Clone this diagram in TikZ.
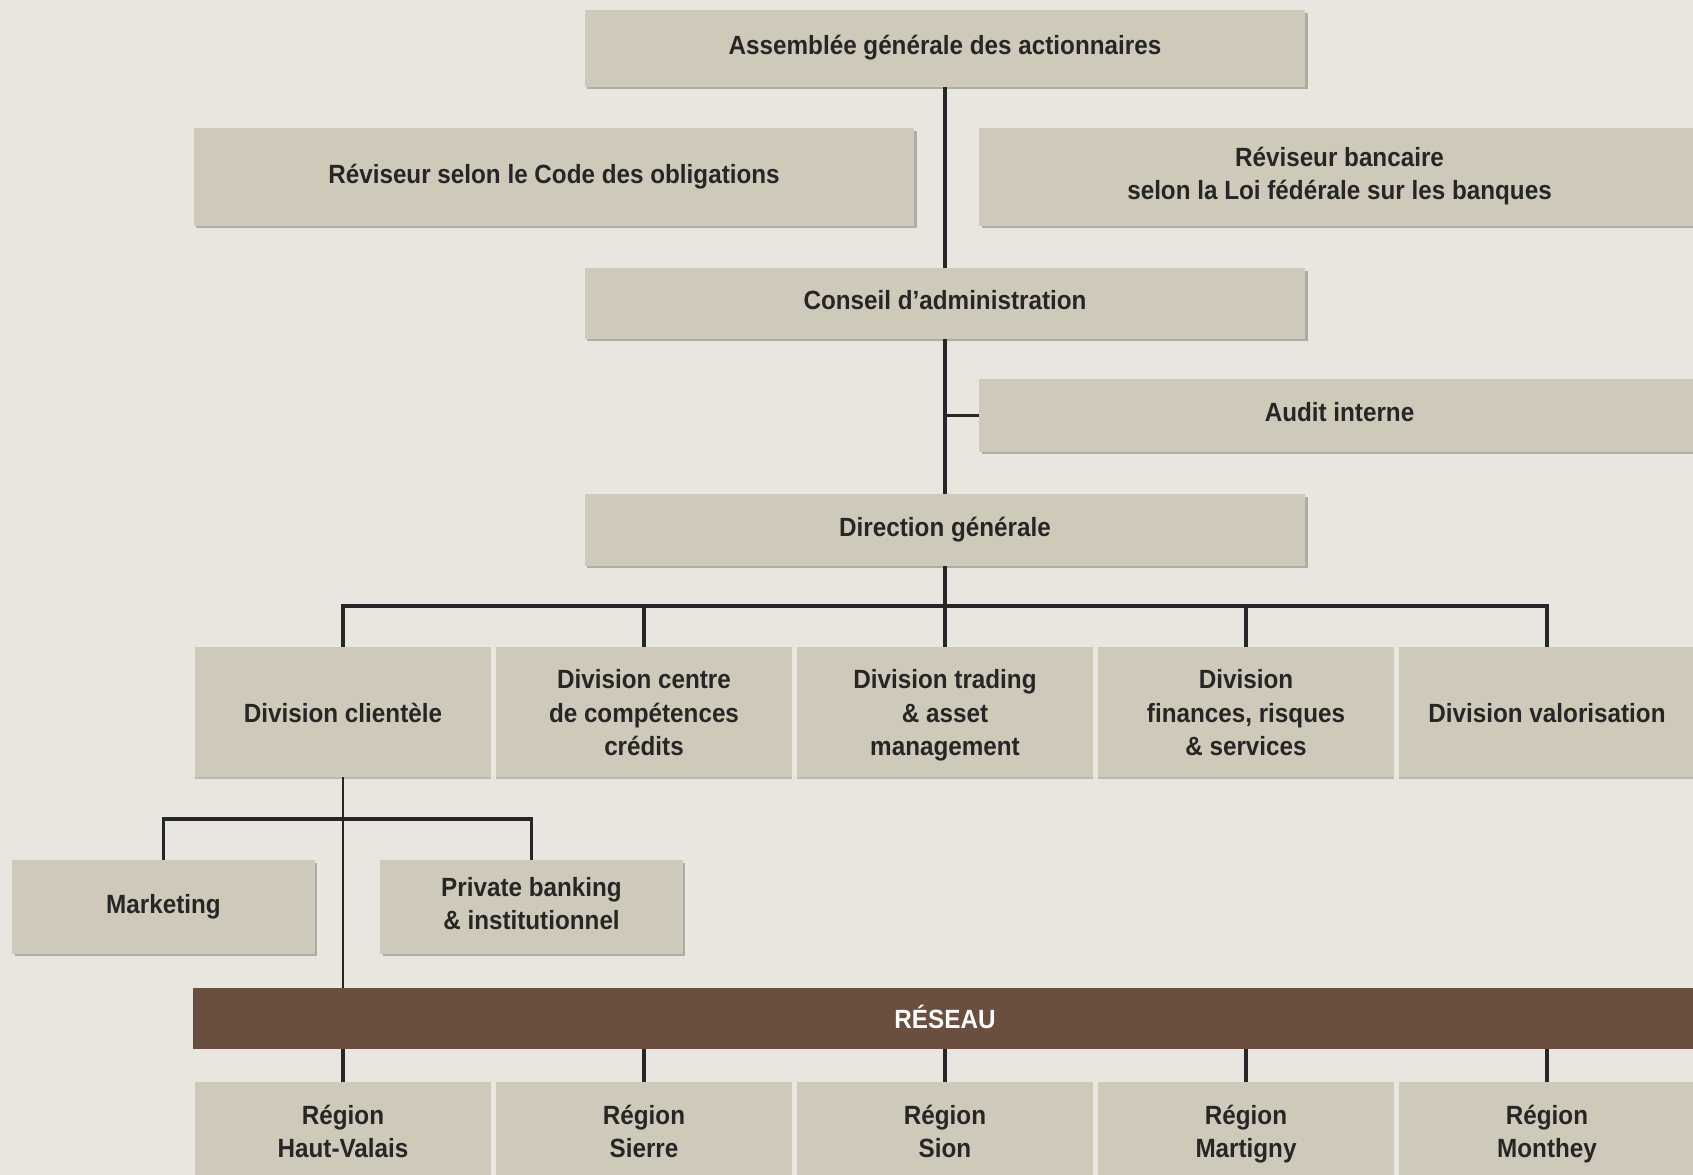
\documentclass[tikz,border=0pt]{standalone}
\usepackage{fontspec}
\setmainfont{Liberation Sans}[FakeStretch=0.92]
\usetikzlibrary{shadows}
\definecolor{bgcol}{HTML}{E8E6DE}
\definecolor{boxcol}{HTML}{CFC9B9}
\definecolor{reseaucol}{HTML}{6A4F3F}
\definecolor{inkcol}{HTML}{262626}
\begin{document}
\begin{tikzpicture}[
    x=0.02cm, y=-0.02cm,
    every node/.style={font=\fontsize{15}{19}\selectfont\bfseries, text=inkcol, align=flush center, inner sep=0pt},
    hightext/.style={execute at begin node=\rule{0pt}{12.5pt}, execute at end node=\rule[-5.5pt]{0pt}{5.5pt}},
    midtext/.style={execute at begin node=\rule{0pt}{14.8pt}, execute at end node=\rule[-3.5pt]{0pt}{3.5pt}},
    lowtext/.style={execute at begin node=\rule{0pt}{15.2pt}, execute at end node=\rule[-3.5pt]{0pt}{3.5pt}},
    orgbox/.style={hightext, fill=boxcol, drop shadow={shadow xshift=0.05cm, shadow yshift=-0.05cm, fill=black!60, opacity=0.45}},
    widebox/.style={orgbox, minimum width=14.42cm, text width=13cm},
    divbox/.style={lowtext, fill=boxcol, minimum width=5.94cm, minimum height=2.6cm, text width=5.6cm,
        drop shadow={shadow xshift=0cm, shadow yshift=-0.05cm, fill=black!60, opacity=0.35}},
    subbox/.style={orgbox, minimum width=6.06cm, minimum height=1.88cm, text width=5.8cm},
    regbox/.style={midtext, fill=boxcol, minimum width=5.94cm, minimum height=1.96cm, text width=5.6cm},
    bandbox/.style={midtext, fill=reseaucol, text=white, minimum width=30.08cm, minimum height=1.22cm},
    link/.style={draw=inkcol, line width=1.9pt},
    thinlink/.style={draw=inkcol, line width=1.1pt}
]
\useasboundingbox (0,0) rectangle (1693,1175);
\clip (0,0) rectangle (1693,1175);
\fill[bgcol] (0,0) rectangle (1693,1175);

% top of the chart
\node[widebox, minimum height=1.54cm] (ag) at (945,48.5) {Assemblée générale des actionnaires};
\node[widebox, minimum height=1.96cm] (revco) at (554,177) {Réviseur selon le Code des obligations};
\node[widebox, minimum height=1.96cm] (revbq) at (1339.5,177) {Réviseur bancaire\\selon la Loi fédérale sur les banques};
\node[widebox, minimum height=1.42cm] (ca) at (945,303.5) {Conseil d’administration};
\node[widebox, minimum height=1.46cm] (audit) at (1339.5,415.5) {Audit interne};
\node[widebox, minimum height=1.44cm] (dg) at (945,530) {Direction générale};

% divisions
\node[divbox] (div1) at (343,712) {Division clientèle};
\node[divbox] (div2) at (644,712) {Division centre\\de compétences\\crédits};
\node[divbox] (div3) at (945,712) {Division trading\\\& asset\\management};
\node[divbox] (div4) at (1246,712) {Division\\finances, risques\\\& services};
\node[divbox] (div5) at (1547,712) {Division valorisation};

\node[subbox] (mkt) at (163.5,907) {Marketing};
\node[subbox] (pb) at (531.5,907) {Private banking\\\& institutionnel};

% network and regions
\node[bandbox] (reseau) at (945,1018.5) {RÉSEAU};
\foreach \i/\x/\reg in {1/343/Haut-Valais, 2/644/Sierre, 3/945/Sion, 4/1246/Martigny, 5/1547/Monthey}
    \node[regbox] (reg\i) at (\x,1131) {Région\\\reg};

% connectors
\coordinate (dgbar) at (945,606);
\coordinate (subbar) at (343,819);
\draw[link] (ag.south) -- (ca.north);
\draw[link] (ca.south) -- (dg.north);
\draw[link] (audit.west) -- (audit.west -| dg.north);
\draw[link] (dg.south) -- (dgbar);
\draw[link] (div1.north) |- (dgbar) -| (div5.north);
\foreach \i in {2,3,4}
    \draw[link] (div\i.north) -- (div\i.north |- dgbar);
\draw[thinlink] (div1.south) -- (div1.south |- reseau.north);
\draw[link] (mkt.north) |- (subbar) -| (pb.north);
\foreach \i in {1,...,5}
    \draw[link] (reg\i.north) -- (reg\i.north |- reseau.south);
\end{tikzpicture}
\end{document}
